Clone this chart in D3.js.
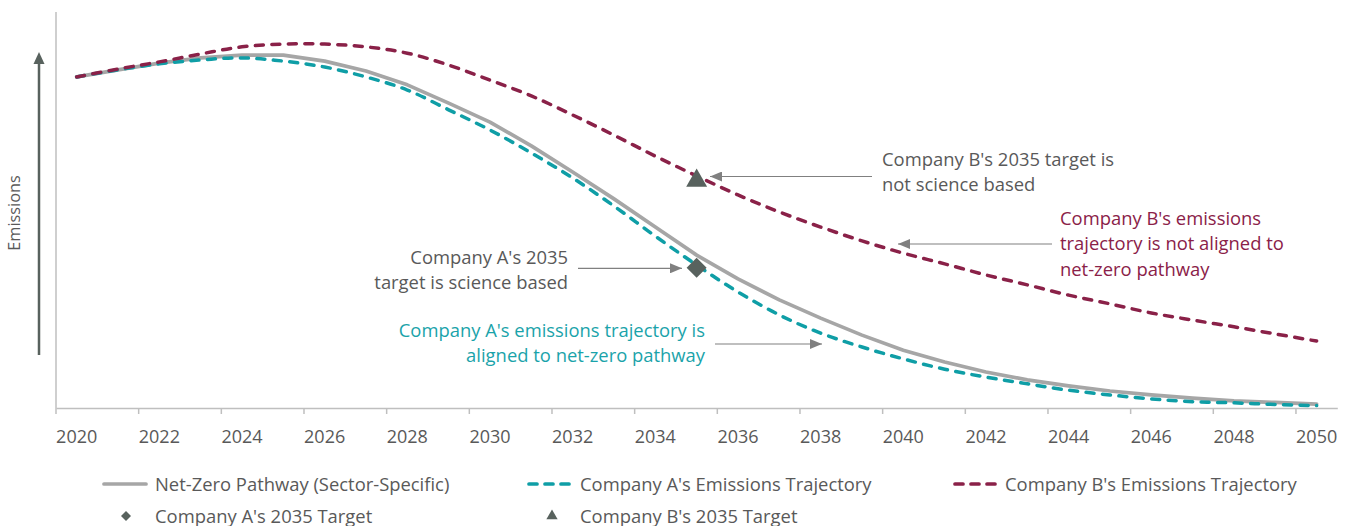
<!DOCTYPE html>
<html>
<head>
<meta charset="utf-8">
<script src="https://cdn.jsdelivr.net/npm/d3@7"></script>
<style>
  body { margin: 0; background: #fff; }
  text { font-family: "Open Sans", "Noto Sans", sans-serif; }
</style>
</head>
<body>
<div id="chart"></div>
<script>
var svgWidth = 1353;
var svgHeight = 526;

// years on the category axis
var years = d3.range(2020, 2051);
var tickYears = years.filter(function(y) { return y % 2 === 0; });

// emissions index values (0 = axis, 100 = top of plot)
var netZero = [83.6, 85.4, 87.1, 88.4, 89.1, 89.1, 87.6, 85.1, 81.6, 77.0,
  72.2, 66.2, 59.6, 52.8, 45.7, 38.6, 32.6, 27.3, 22.7, 18.4,
  14.6, 11.6, 9.1, 7.1, 5.6, 4.3, 3.3, 2.5, 1.8, 1.4, 1.0];
var companyA = [83.6, 85.4, 86.9, 87.9, 88.4, 87.6, 86.1, 83.6, 80.3, 75.3,
  70.2, 64.4, 58.1, 51.0, 43.4, 36.1, 29.3, 23.5, 18.9, 15.4,
  12.4, 9.8, 7.8, 6.1, 4.5, 3.3, 2.3, 1.6, 1.3, 0.9, 0.6];
var companyB = [83.6, 85.6, 87.4, 89.4, 91.2, 91.9, 91.9, 91.2, 89.6, 86.6,
  82.8, 78.8, 74.0, 68.9, 63.6, 58.6, 53.8, 49.5, 45.7, 42.2,
  39.1, 36.4, 33.6, 31.1, 28.5, 26.3, 24.0, 22.2, 20.5, 18.7, 16.9];

// 2035 targets
var targetYear = 2035;
var targetA = 35.4;
var targetB = 57.4;

var legendNames = ["Net-Zero Pathway (Sector-Specific)", "Company A's Emissions Trajectory",
  "Company B's Emissions Trajectory", "Company A's 2035 Target", "Company B's 2035 Target"];

var gray = "#a6a6a6";
var teal = "#0f9ea6";
var maroon = "#8a2148";
var marker = "#58625e";
var textGray = "#595959";
var fontSize = "18.4px";

var svg = d3.select("#chart")
  .append("svg")
  .attr("width", svgWidth)
  .attr("height", svgHeight);

var x = d3.scaleBand()
  .domain(years)
  .range([56, 1337.3])
  .padding(0);

var y = d3.scaleLinear()
  .domain([0, 100])
  .range([408, 12]);

var cx = function(yr) { return x(yr) + x.bandwidth() / 2; };

// y axis line
svg.append("line")
  .attr("x1", 56).attr("x2", 56)
  .attr("y1", y(100)).attr("y2", y(0))
  .attr("stroke", "#bfbfbf")
  .attr("stroke-width", 1.5);

// x axis: labels from the axis, ticks on the category boundaries
var xAxis = svg.append("g")
  .attr("transform", "translate(0," + y(0) + ")")
  .call(d3.axisBottom(x).tickValues(tickYears).tickSize(0).tickPadding(22.5));
xAxis.select(".domain").attr("stroke", "#bfbfbf").attr("stroke-width", 1.5);
xAxis.selectAll("text")
  .attr("fill", textGray)
  .style("font-size", "18px")
  .style("font-family", "'Open Sans', sans-serif");

svg.append("g").selectAll("line")
  .data(tickYears)
  .enter()
  .append("line")
  .attr("x1", d => x(d)).attr("x2", d => x(d))
  .attr("y1", y(0)).attr("y2", y(0) + 6)
  .attr("stroke", "#bfbfbf")
  .attr("stroke-width", 1.5);

// vertical "Emissions" arrow
svg.append("line")
  .attr("x1", 39).attr("x2", 39)
  .attr("y1", 355).attr("y2", 62)
  .attr("stroke", marker)
  .attr("stroke-width", 2.5);
svg.append("path")
  .attr("d", "M33.5,64 L39,52 L44.5,64 Z")
  .attr("fill", marker);

svg.append("text")
  .attr("transform", "translate(20,213) rotate(-90)")
  .attr("text-anchor", "middle")
  .attr("fill", textGray)
  .style("font-size", "16.3px")
  .text("Emissions");

// lines
var straight = d3.line()
  .x((d, i) => cx(years[i]))
  .y(d => y(d));

var smooth = d3.line()
  .x((d, i) => cx(years[i]))
  .y(d => y(d))
  .curve(d3.curveCatmullRom.alpha(0.5));

svg.append("path")
  .datum(netZero)
  .attr("d", straight)
  .attr("fill", "none")
  .attr("stroke", gray)
  .attr("stroke-width", 3.7)
  .attr("stroke-linejoin", "round")
  .attr("stroke-linecap", "round");

svg.append("path")
  .datum(companyA)
  .attr("d", smooth)
  .attr("fill", "none")
  .attr("stroke", teal)
  .attr("stroke-width", 3.5)
  .attr("stroke-dasharray", "8,8.5")
  .attr("stroke-linecap", "round");

svg.append("path")
  .datum(companyB)
  .attr("d", smooth)
  .attr("fill", "none")
  .attr("stroke", maroon)
  .attr("stroke-width", 3.5)
  .attr("stroke-dasharray", "8,8.5")
  .attr("stroke-linecap", "round");

// target markers
var diamond = d3.symbol().type(d3.symbolSquare).size(200);
var triangle = d3.symbol().type(d3.symbolTriangle).size(190);

svg.append("path")
  .attr("d", diamond)
  .attr("transform", "translate(" + cx(targetYear) + "," + y(targetA) + ") rotate(45)")
  .attr("fill", marker);

svg.append("path")
  .attr("d", triangle)
  .attr("transform", "translate(" + cx(targetYear) + "," + y(targetB) + ")")
  .attr("fill", marker);

// annotation arrows
svg.append("defs").append("marker")
  .attr("id", "head")
  .attr("viewBox", "0 0 12 10")
  .attr("refX", 12).attr("refY", 5)
  .attr("markerWidth", 12).attr("markerHeight", 10)
  .attr("markerUnits", "userSpaceOnUse")
  .attr("orient", "auto")
  .append("path")
  .attr("d", "M0,0 L12,5 L0,10 Z")
  .attr("fill", "#808080");

var arrows = [
  [872, 176.5, 710, 176.5],
  [1052, 244, 898, 244],
  [578, 268.3, 682, 268.3],
  [715, 344, 822, 344]
];
svg.append("g").selectAll("line")
  .data(arrows)
  .enter()
  .append("line")
  .attr("x1", d => d[0]).attr("y1", d => d[1])
  .attr("x2", d => d[2]).attr("y2", d => d[3])
  .attr("stroke", "#808080")
  .attr("stroke-width", 1.2)
  .attr("marker-end", "url(#head)");

function note(lines, px, py, anchor, color) {
  var t = svg.append("text")
    .attr("text-anchor", anchor)
    .attr("fill", color)
    .style("font-size", fontSize);
  lines.forEach(function(l, i) {
    t.append("tspan")
      .attr("x", px)
      .attr("y", py + i * 25.5)
      .text(l);
  });
}

note(["Company B's 2035 target is", "not science based"], 882, 165.5, "start", textGray);
note(["Company B's emissions", "trajectory is not aligned to", "net-zero pathway"], 1060, 224.5, "start", maroon);
note(["Company A's 2035", "target is science based"], 568, 263.5, "end", textGray);
note(["Company A's emissions trajectory is", "aligned to net-zero pathway"], 705, 336.5, "end", "#1aa3aa");

// legend
var legendRow1 = svg.append("g");
var swatches = [
  { x: 102, color: gray, dash: null, tx: 155, name: legendNames[0] },
  { x: 527, color: teal, dash: "8,8.5", tx: 580, name: legendNames[1] },
  { x: 953, color: maroon, dash: "8,8.5", tx: 1005, name: legendNames[2] }
];
swatches.forEach(function(s) {
  legendRow1.append("line")
    .attr("x1", s.x + 2).attr("x2", s.x + 44)
    .attr("y1", 484).attr("y2", 484)
    .attr("stroke", s.color)
    .attr("stroke-width", 3.7)
    .attr("stroke-linecap", "round")
    .attr("stroke-dasharray", s.dash ? "8,8" : null);
  legendRow1.append("text")
    .attr("x", s.tx).attr("y", 490.5)
    .attr("fill", textGray)
    .style("font-size", fontSize)
    .text(s.name);
});

svg.append("path")
  .attr("d", d3.symbol().type(d3.symbolSquare).size(50))
  .attr("transform", "translate(126,516) rotate(45)")
  .attr("fill", marker);
svg.append("text")
  .attr("x", 155).attr("y", 522.5)
  .attr("fill", textGray)
  .style("font-size", fontSize)
  .text(legendNames[3]);

svg.append("path")
  .attr("d", d3.symbol().type(d3.symbolTriangle).size(55))
  .attr("transform", "translate(552,516)")
  .attr("fill", marker);
svg.append("text")
  .attr("x", 580).attr("y", 522.5)
  .attr("fill", textGray)
  .style("font-size", fontSize)
  .text(legendNames[4]);
</script>
</body>
</html>
